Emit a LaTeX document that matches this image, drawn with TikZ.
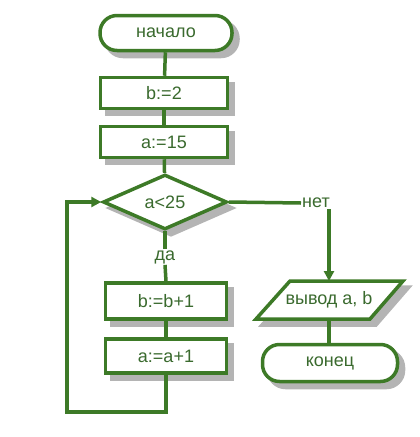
\documentclass[tikz,border=0pt]{standalone}
\usepackage{fontspec}
\setmainfont{Liberation Sans}
\usetikzlibrary{shapes.geometric,arrows.meta}
\definecolor{fgreen}{HTML}{3D7A27}
\definecolor{tgreen}{HTML}{3A6A2E}
\definecolor{shadgray}{HTML}{B4B4B4}
\tikzset{
  x=1pt,y=-1pt,
  shp/.style={draw=fgreen,line width=3.5pt,fill=white,text=tgreen,inner sep=0pt,
    font=\fontsize{18}{20}\selectfont},
  termbox/.style={shp,rectangle,rounded corners=17pt},
  procbox/.style={shp,rectangle},
  decbox/.style={shp,diamond},
  shadowbox/.style={draw=shadgray,fill=shadgray},
  conn/.style={draw=fgreen,line width=3.5pt},
  arr/.style={conn,-{Triangle[length=10pt,width=10pt]}},
  lbl/.style={fill=white,text=tgreen,inner sep=1pt,font=\fontsize{18}{20}\selectfont}
}
\begin{document}
\begin{tikzpicture}
\useasboundingbox (0,0) rectangle (420,437);
% shadows (drawn first)
\node[termbox,shadowbox,minimum width=132pt,minimum height=35pt] (startS) at (172,39) {};
\node[procbox,shadowbox,minimum width=127pt,minimum height=31pt] (b2S) at (170,99) {};
\node[procbox,shadowbox,minimum width=127pt,minimum height=31pt] (a15S) at (170,148) {};
\node[decbox,shadowbox,minimum width=124pt,minimum height=55pt] (decS) at (171,208) {};
\node[procbox,shadowbox,minimum width=121pt,minimum height=36pt] (bb1S) at (172,307) {};
\node[procbox,shadowbox,minimum width=121pt,minimum height=34pt] (aa1S) at (172,362) {};
\node[termbox,shadowbox,minimum width=135pt,minimum height=37pt] (endS) at (336,369) {};
\fill[shadgray,draw=shadgray,line width=3.5pt,line join=miter] (296,287) -- (409,287) -- (376,325) -- (262,325) -- cycle;
% shapes
\node[termbox,minimum width=132pt,minimum height=35pt] (start) at (166,33) {начало};
\node[procbox,minimum width=127pt,minimum height=31pt] (b2) at (164,93) {b:=2};
\node[procbox,minimum width=127pt,minimum height=31pt] (a15) at (164,142) {a:=15};
\node[decbox,minimum width=124pt,minimum height=55pt] (dec) at (165,202) {a<25};
\node[procbox,minimum width=121pt,minimum height=36pt] (bb1) at (166,301) {b:=b+1};
\node[procbox,minimum width=121pt,minimum height=34pt] (aa1) at (166,356) {a:=a+1};
% output parallelogram
\coordinate (p1) at (290,281);
\coordinate (p2) at (403,281);
\coordinate (p3) at (370,319);
\coordinate (p4) at (256,319);
\path[draw=fgreen,line width=3.5pt,fill=white,line join=miter]
  (p1) -- (p2) -- (p3) -- (p4) -- cycle;
\node[text=tgreen,font=\fontsize{18}{20}\selectfont] (out) at (329,300) {вывод a, b};
\coordinate (outtop) at (329,281);
\coordinate (outbot) at (329,319);
\node[termbox,minimum width=135pt,minimum height=37pt] (end) at (330,363) {конец};
% labels
\node[lbl] (da) at (165,257) {да};
\node[lbl,anchor=west] (net) at (301,203) {нет};
\coordinate (loopA) at (166,412);
\coordinate (loopB) at (67,412);
\coordinate (loopC) at (67,202);
% connectors
\draw[conn] (start) -- (b2);
\draw[conn] (b2) -- (a15);
\draw[conn] (a15) -- (dec);
\draw[conn] (dec.south) -- (da.north);
\draw[conn] (da.south) -- (bb1.north);
\draw[conn] (bb1) -- (aa1);
\draw[arr] (aa1.south) -- (loopA) -- (loopB) -- (loopC) -- (dec.west);
\draw[conn] (dec.east) -- (net.west);
\draw[arr] (net.south -| outtop) -- (outtop);
\draw[conn] (outbot) -- (end.north -| outbot);
\end{tikzpicture}
\end{document}
